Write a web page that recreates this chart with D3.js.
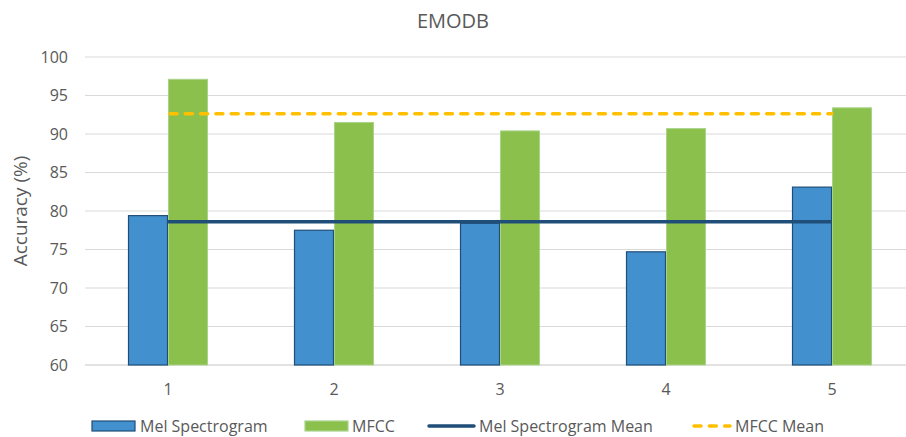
<!DOCTYPE html>
<html>
<head>
<meta charset="utf-8">
<script src="https://cdn.jsdelivr.net/npm/d3@7"></script>
<style>
  html, body { margin: 0; padding: 0; background: #fff; }
  svg { display: block; font-family: "Open Sans", "Noto Sans", sans-serif; }
</style>
</head>
<body>
<svg id="chart" width="906" height="437"></svg>
<script>
// Accuracy per fold on EMODB
const categories = ["1", "2", "3", "4", "5"];
const melValues = [79.4, 77.5, 78.4, 74.7, 83.1];
const mfccValues = [97.1, 91.5, 90.4, 90.7, 93.4];
const melMean = 78.62;
const mfccMean = 92.62;
const yTicks = [60, 65, 70, 75, 80, 85, 90, 95, 100];
const seriesNames = ["Mel Spectrogram", "MFCC"];
const legendLabels = ["Mel Spectrogram", "MFCC", "Mel Spectrogram Mean", "MFCC Mean"];

const svg = d3.select("#chart");
const textColor = "#595959";
const gridColor = "#d9d9d9";
const colors = {
  melFill: "#4390ce", melStroke: "#1f4e79",
  mfccFill: "#8bc04d", mfccStroke: "#a9d38a",
  melMean: "#1f4e79", mfccMean: "#ffc000"
};

const plot = { left: 85, right: 915, top: 57, bottom: 365 };

const x = d3.scaleBand().domain(categories).range([plot.left, plot.right]).padding(0);
const x1 = d3.scaleBand().domain(seriesNames).range([0, x.bandwidth()])
  .paddingInner(0).paddingOuter(1.075);
const y = d3.scaleLinear().domain([60, 100]).range([plot.bottom, plot.top]);

// Title
svg.append("text")
  .attr("x", 453).attr("y", 28)
  .attr("text-anchor", "middle")
  .attr("font-size", 20)
  .attr("fill", textColor)
  .text("EMODB");

// Horizontal gridlines
svg.append("g")
  .selectAll("line")
  .data(yTicks)
  .join("line")
  .attr("x1", plot.left).attr("x2", plot.right)
  .attr("y1", d => y(d)).attr("y2", d => y(d))
  .attr("stroke", gridColor)
  .attr("stroke-width", d => d === 60 ? 1.5 : 1.2);

// Y axis tick labels
const yAxis = d3.axisLeft(y).tickValues(yTicks).tickSize(0).tickPadding(0);
const yg = svg.append("g").attr("transform", "translate(68,0)").call(yAxis);
yg.select(".domain").remove();
yg.selectAll("text")
  .attr("font-size", 16)
  .attr("font-family", "'Open Sans', 'Noto Sans', sans-serif")
  .attr("fill", textColor);

// X axis category labels
const xAxis = d3.axisBottom(x).tickSize(0).tickPadding(0);
const xg = svg.append("g").attr("transform", `translate(0,${plot.bottom + 19})`).call(xAxis);
xg.select(".domain").remove();
xg.selectAll("text")
  .attr("font-size", 16)
  .attr("font-family", "'Open Sans', 'Noto Sans', sans-serif")
  .attr("fill", textColor);

// Y axis title
svg.append("text")
  .attr("transform", `translate(27,${(plot.top + plot.bottom) / 2}) rotate(-90)`)
  .attr("text-anchor", "middle")
  .attr("font-size", 19)
  .attr("fill", textColor)
  .text("Accuracy (%)");

// Bars
const rows = categories.map((c, i) => ({ cat: c, mel: melValues[i], mfcc: mfccValues[i] }));
const groups = svg.append("g").selectAll("g")
  .data(rows)
  .join("g")
  .attr("transform", d => `translate(${x(d.cat)},0)`);

groups.append("rect")
  .attr("x", x1("Mel Spectrogram") + 0.5)
  .attr("y", d => y(d.mel))
  .attr("width", x1.bandwidth() - 1)
  .attr("height", d => y(60) - y(d.mel))
  .attr("fill", colors.melFill)
  .attr("stroke", colors.melStroke)
  .attr("stroke-width", 1.2);

groups.append("rect")
  .attr("x", x1("MFCC") + 0.5)
  .attr("y", d => y(d.mfcc))
  .attr("width", x1.bandwidth() - 1)
  .attr("height", d => y(60) - y(d.mfcc))
  .attr("fill", colors.mfccFill)
  .attr("stroke", colors.mfccStroke)
  .attr("stroke-width", 1);

// Mean lines across the category centres
const firstC = x(categories[0]) + x.bandwidth() / 2;
const lastC = x(categories[categories.length - 1]) + x.bandwidth() / 2;

svg.append("line")
  .attr("x1", firstC).attr("x2", lastC)
  .attr("y1", y(melMean)).attr("y2", y(melMean))
  .attr("stroke", colors.melMean)
  .attr("stroke-width", 3.5);

svg.append("line")
  .attr("x1", firstC + 2).attr("x2", lastC)
  .attr("y1", y(mfccMean)).attr("y2", y(mfccMean))
  .attr("stroke", colors.mfccMean)
  .attr("stroke-width", 3.5)
  .attr("stroke-linecap", "round")
  .attr("stroke-dasharray", "7 8.3");

// Legend
const legendY = 426;
const legendItems = [
  { label: legendLabels[0], kind: "rect", fill: colors.melFill, stroke: colors.melStroke, sx: 92, tx: 140 },
  { label: legendLabels[1], kind: "rect", fill: colors.mfccFill, stroke: colors.mfccStroke, sx: 305, tx: 352 },
  { label: legendLabels[2], kind: "line", stroke: colors.melMean, sx: 429, tx: 479 },
  { label: legendLabels[3], kind: "dash", stroke: colors.mfccMean, sx: 692, tx: 735 }
];
const lg = svg.append("g");
legendItems.forEach(it => {
  if (it.kind === "rect") {
    lg.append("rect")
      .attr("x", it.sx).attr("y", legendY - 5)
      .attr("width", 43).attr("height", 10)
      .attr("fill", it.fill)
      .attr("stroke", it.stroke)
      .attr("stroke-width", 1.2);
  } else if (it.kind === "line") {
    lg.append("line")
      .attr("x1", it.sx).attr("x2", it.sx + 45)
      .attr("y1", legendY).attr("y2", legendY)
      .attr("stroke", it.stroke).attr("stroke-width", 3.5)
      .attr("stroke-linecap", "round");
  } else {
    lg.append("line")
      .attr("x1", it.sx + 2).attr("x2", it.sx + 38)
      .attr("y1", legendY).attr("y2", legendY)
      .attr("stroke", it.stroke).attr("stroke-width", 3.5)
      .attr("stroke-linecap", "round")
      .attr("stroke-dasharray", "7 8.3");
  }
  lg.append("text")
    .attr("x", it.tx).attr("y", legendY)
    .attr("dy", "0.35em")
    .attr("font-size", 16)
    .attr("fill", textColor)
    .text(it.label);
});
</script>
</body>
</html>
